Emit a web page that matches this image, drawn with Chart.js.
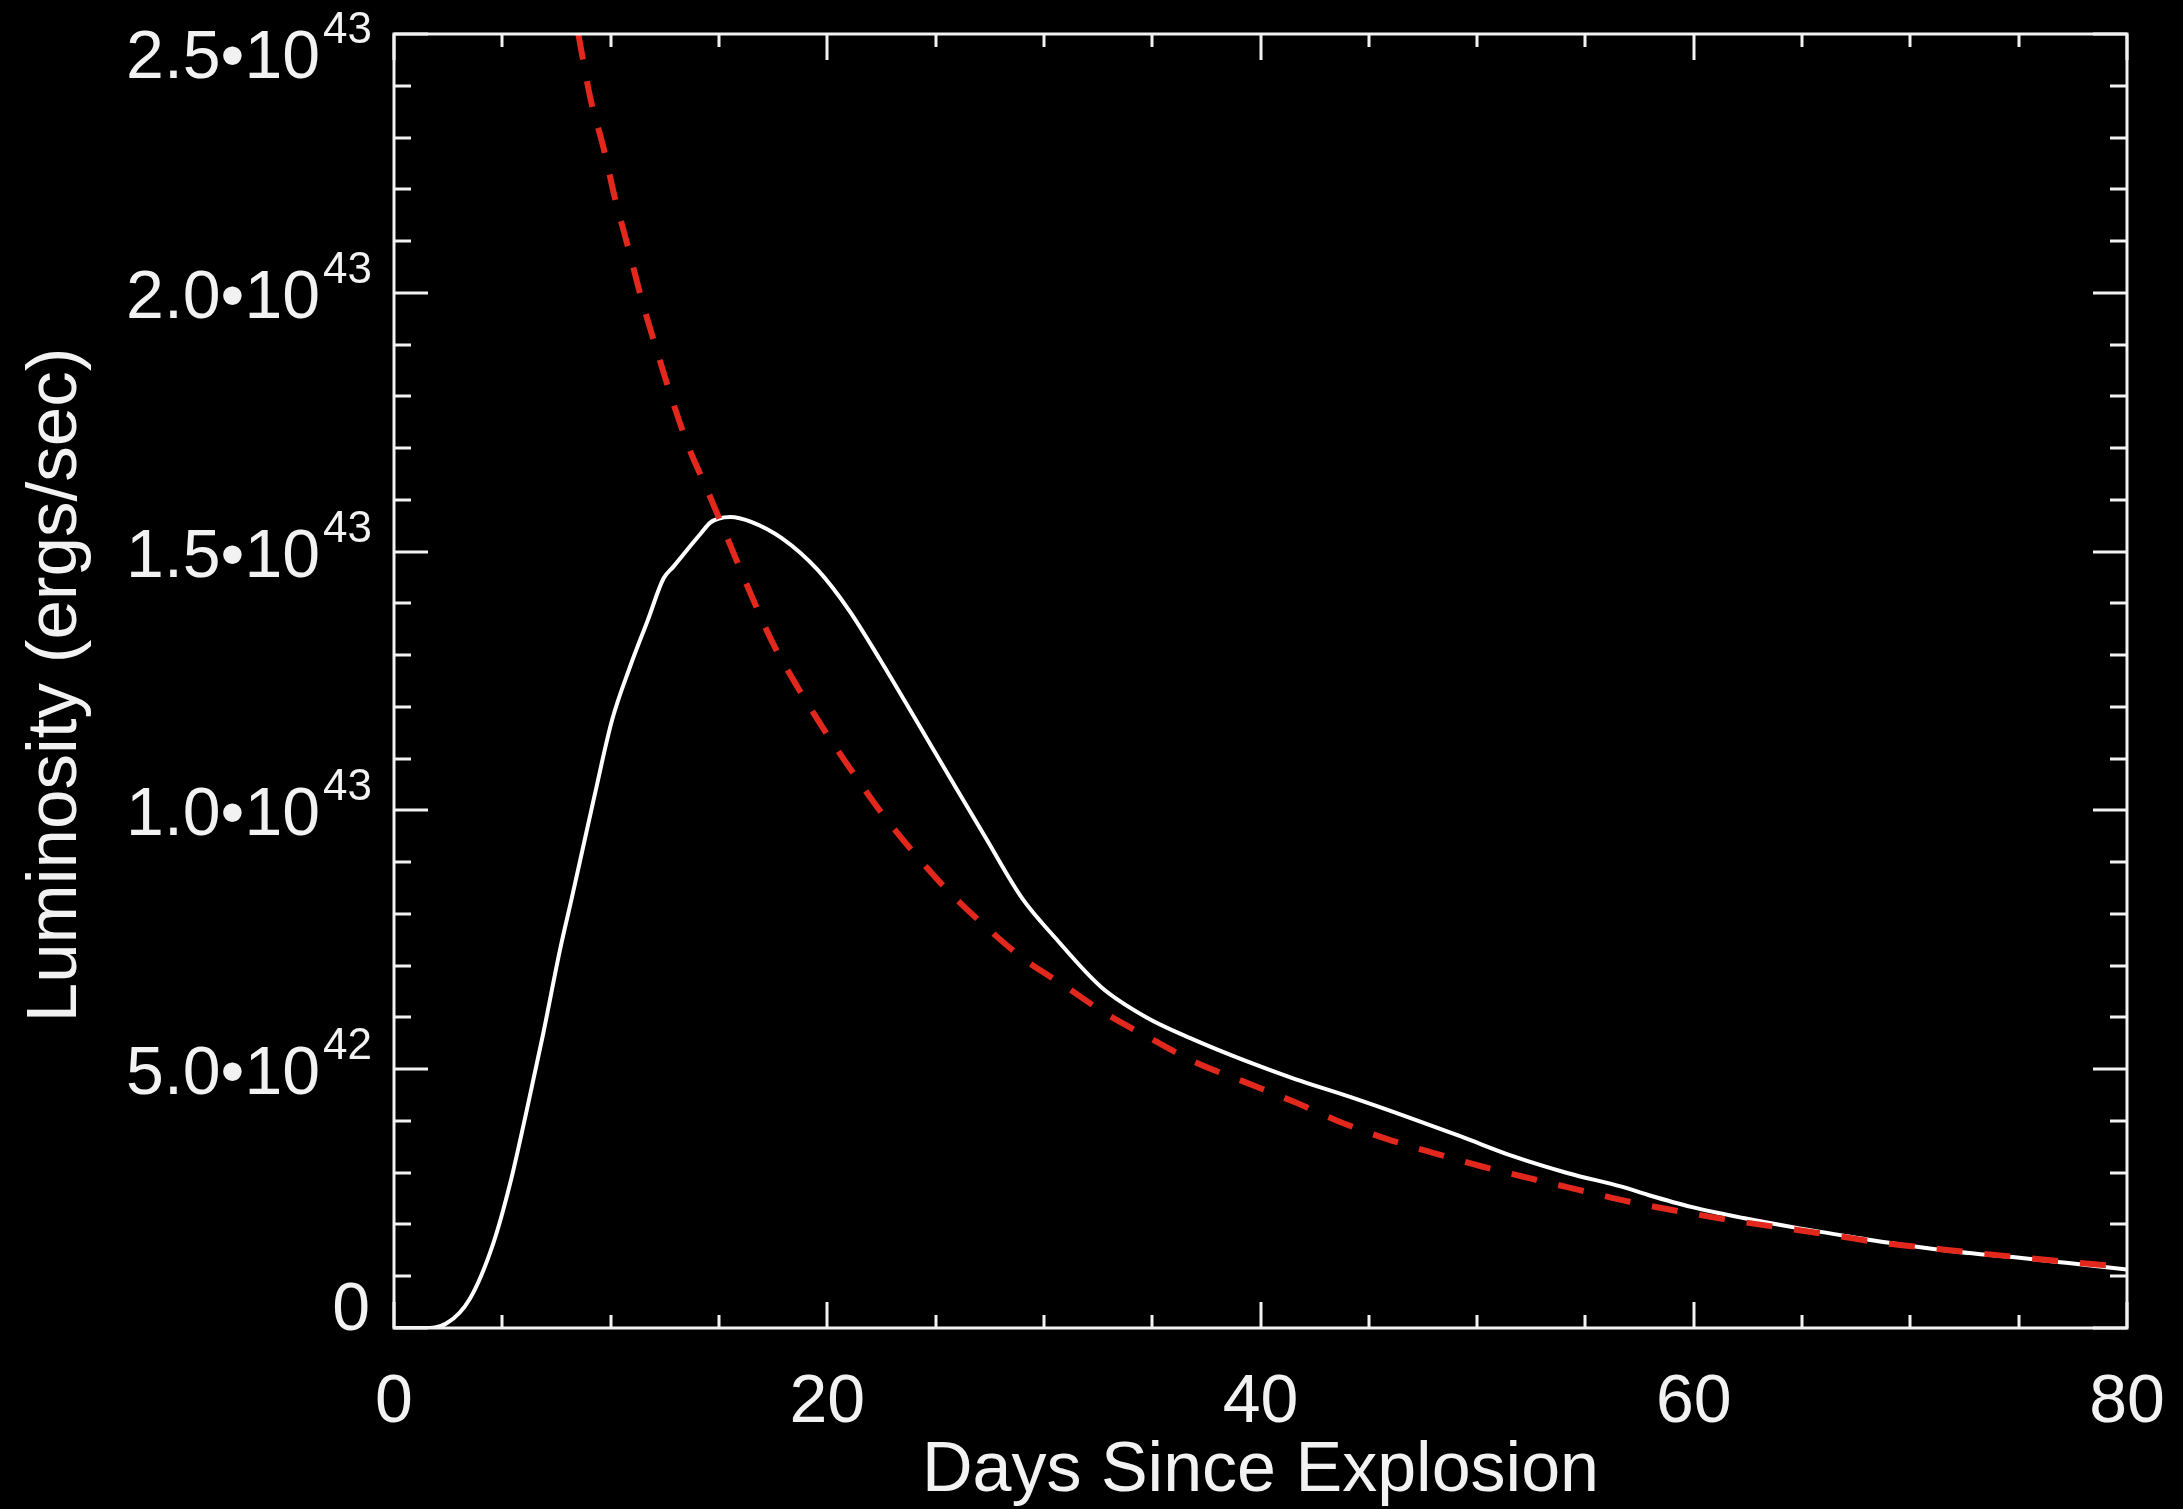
<!DOCTYPE html>
<html>
<head>
<meta charset="utf-8">
<script src="https://cdn.jsdelivr.net/npm/chart.js@4.4.1/dist/chart.umd.min.js"></script>
<style>
  html, body { margin: 0; padding: 0; background: #000; }
  #wrap { width: 2183px; height: 1509px; position: relative; background: #000; }
  canvas { display: block; }
</style>
</head>
<body>
<div id="wrap"><canvas id="c" width="2183" height="1509"></canvas></div>
<script>
// ---- Data (luminosity in units of 1e43 erg/s) ----
const whiteDays = [0, 1.35, 2.43, 3.51, 4.58, 5.36, 6.13, 6.89, 7.66, 8.22, 9.25, 10.07, 10.9, 11.72, 12.44, 12.9, 13.78, 14.2, 14.6, 15.0, 15.53, 16.46, 17.9, 19.55, 21.0, 22.44, 24.09, 25.6, 27.3, 29.0, 30.5, 32.64, 34.7, 36.76, 39.44, 41.6, 44.1, 46.77, 49.25, 51.72, 54.2, 56.67, 57.9, 59.88, 62.35, 64.82, 67.3, 69.77, 72.24, 74.72, 77.19, 80];
const whiteLum  = [0, 0, 0.009, 0.057, 0.163, 0.279, 0.421, 0.569, 0.730, 0.833, 1.027, 1.175, 1.278, 1.368, 1.448, 1.471, 1.516, 1.537, 1.556, 1.564, 1.567, 1.558, 1.526, 1.465, 1.387, 1.291, 1.175, 1.068, 0.948, 0.83, 0.755, 0.659, 0.601, 0.560, 0.514, 0.481, 0.447, 0.408, 0.370, 0.331, 0.299, 0.273, 0.257, 0.234, 0.212, 0.193, 0.176, 0.160, 0.147, 0.137, 0.126, 0.113];

const redDays = [8.51, 9.05, 9.66, 10.2, 10.82, 11.44, 12.13, 12.82, 13.59, 14.45, 15.5, 16.46, 17.49, 18.62, 19.96, 21.2, 22.64, 24.0, 25.5, 27.3, 29.1, 30.85, 32.84, 34.9, 36.96, 39.23, 41.6, 43.56, 45.78, 48.0, 50.23, 52.46, 54.69, 57.04, 59.39, 61.61, 63.84, 66.31, 68.78, 71.0, 73.23, 75.46, 77.68, 80];
const redLum  = [2.5, 2.379, 2.282, 2.183, 2.086, 1.986, 1.889, 1.796, 1.703, 1.62, 1.515, 1.419, 1.323, 1.239, 1.149, 1.072, 0.988, 0.918, 0.848, 0.776, 0.712, 0.664, 0.608, 0.560, 0.514, 0.476, 0.436, 0.400, 0.366, 0.338, 0.312, 0.289, 0.267, 0.244, 0.225, 0.209, 0.195, 0.180, 0.164, 0.154, 0.144, 0.135, 0.126, 0.118];

const xTickValues = [0, 20, 40, 60, 80];
const xTickLabels = ['0', '20', '40', '60', '80'];
const yTickValues = [0, 0.5, 1.0, 1.5, 2.0, 2.5];
const yTickMantissa = ['0', '5.0\u202210', '1.0\u202210', '1.5\u202210', '2.0\u202210', '2.5\u202210'];
const yTickExponent = ['', '42', '43', '43', '43', '43'];
const xTitle = 'Days Since Explosion';
const yTitle = 'Luminosity (ergs/sec)';

const xMinorStep = 5;
const yMinorStep = 0.1;

const FONT = '"Liberation Sans", Arimo, Arial, Helvetica, sans-serif';
const FG = '#f2f2f2';

const toXY = (xs, ys) => xs.map((x, i) => ({ x: x, y: ys[i] }));

const bgPlugin = {
  id: 'bg',
  beforeDraw(chart) {
    const ctx = chart.ctx;
    ctx.save();
    ctx.fillStyle = '#000';
    ctx.fillRect(0, 0, chart.width, chart.height);
    ctx.restore();
  }
};

const axesPlugin = {
  id: 'idlAxes',
  afterDraw(chart) {
    const ctx = chart.ctx;
    const a = chart.chartArea;
    const xs = chart.scales.x, ys = chart.scales.y;
    ctx.save();
    ctx.strokeStyle = FG;
    ctx.fillStyle = FG;
    ctx.lineWidth = 3;
    ctx.lineCap = 'butt';
    // frame
    ctx.strokeRect(a.left, a.top, a.right - a.left, a.bottom - a.top);
    // x ticks (bottom and top, inward)
    ctx.beginPath();
    for (let v = xs.min; v <= xs.max + 1e-9; v += xMinorStep) {
      const px = Math.round(xs.getPixelForValue(v));
      const major = xTickValues.some(t => Math.abs(t - v) < 1e-6);
      const len = major ? 26 : 13;
      ctx.moveTo(px, a.bottom); ctx.lineTo(px, a.bottom - len);
      ctx.moveTo(px, a.top); ctx.lineTo(px, a.top + len);
    }
    // y ticks (left and right, inward)
    const nY = Math.round((ys.max - ys.min) / yMinorStep);
    for (let i = 0; i <= nY; i++) {
      const v = ys.min + i * yMinorStep;
      const py = Math.round(ys.getPixelForValue(v));
      const major = yTickValues.some(t => Math.abs(t - v) < 1e-6);
      const len = major ? 34 : 17;
      ctx.moveTo(a.left, py); ctx.lineTo(a.left + len, py);
      ctx.moveTo(a.right, py); ctx.lineTo(a.right - len, py);
    }
    ctx.stroke();

    // x tick labels
    ctx.font = '68px ' + FONT;
    ctx.textAlign = 'center';
    ctx.textBaseline = 'alphabetic';
    xTickValues.forEach((v, i) => {
      ctx.fillText(xTickLabels[i], xs.getPixelForValue(v), a.bottom + 94);
    });

    // y tick labels with superscript exponent
    const rightEdge = a.left - 22;
    yTickValues.forEach((v, i) => {
      const py = ys.getPixelForValue(v);
      const exp = yTickExponent[i];
      ctx.textAlign = 'right';
      if (!exp) {
        ctx.font = '68px ' + FONT;
        ctx.fillText(yTickMantissa[i], rightEdge - 2, py + 2);
      } else {
        // keep the label inside the window (the top label is pushed down)
        const base = Math.max(py + 25, 78);
        ctx.font = '44px ' + FONT;
        const ew = ctx.measureText(exp).width;
        ctx.fillText(exp, rightEdge, base - 35);
        ctx.font = '68px ' + FONT;
        ctx.fillText(yTickMantissa[i], rightEdge - ew - 3, base);
      }
    });

    // x title
    ctx.font = '70px ' + FONT;
    ctx.textAlign = 'center';
    ctx.fillText(xTitle, (a.left + a.right) / 2, 1491);

    // y title (rotated)
    ctx.save();
    ctx.font = '71px ' + FONT;
    ctx.translate(76, (a.top + a.bottom) / 2 + 4);
    ctx.rotate(-Math.PI / 2);
    ctx.textAlign = 'center';
    ctx.fillText(yTitle, 0, 0);
    ctx.restore();

    ctx.restore();
  }
};

new Chart(document.getElementById('c'), {
  type: 'line',
  data: {
    datasets: [
      {
        label: 'Radioactive decay',
        data: toXY(redDays, redLum),
        borderColor: '#e2271d',
        borderWidth: 6,
        borderDash: [26, 22],
        borderCapStyle: 'butt',
        pointRadius: 0,
        fill: false,
        cubicInterpolationMode: 'monotone'
      },
      {
        label: 'Light curve',
        data: toXY(whiteDays, whiteLum),
        borderColor: '#ffffff',
        borderWidth: 4,
        borderJoinStyle: 'round',
        pointRadius: 0,
        fill: false,
        cubicInterpolationMode: 'monotone'
      }
    ]
  },
  options: {
    responsive: false,
    animation: false,
    devicePixelRatio: 1,
    layout: { padding: { left: 394, right: 56, top: 34, bottom: 181 } },
    plugins: { legend: { display: false }, tooltip: { enabled: false }, title: { display: false } },
    scales: {
      x: { type: 'linear', min: 0, max: 80, display: false },
      y: { type: 'linear', min: 0, max: 2.5, display: false }
    }
  },
  plugins: [bgPlugin, axesPlugin]
});
</script>
</body>
</html>
